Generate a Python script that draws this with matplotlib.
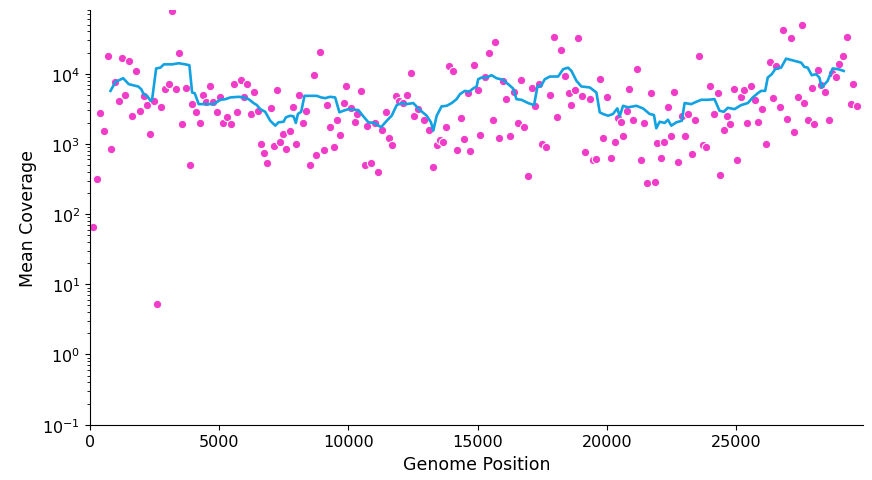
import numpy as np
import matplotlib
matplotlib.use("Agg")
import matplotlib.pyplot as plt

# mean coverage per window (position in bp, coverage)
positions = [116, 259, 401, 556, 695, 838, 980, 1119, 1262, 1366,
             1505, 1648, 1791, 1945, 2084, 2227, 2331, 2486, 2613, 2768,
             2910, 3049, 3192, 3335, 3435, 3578, 3721, 3860, 3964, 4107,
             4246, 4389, 4493, 4632, 4775, 4918, 5018, 5161, 5304, 5443,
             5585, 5690, 5829, 5971, 6076, 6215, 6357, 6500, 6601, 6743,
             6832, 6987, 7129, 7218, 7361, 7465, 7604, 7747, 7851, 7990,
             8094, 8237, 8376, 8519, 8662, 8762, 8905, 9048, 9187, 9291,
             9434, 9573, 9677, 9820, 9909, 10102, 10244, 10345, 10488, 10630,
             10731, 10874, 11016, 11155, 11298, 11441, 11580, 11696, 11827, 11954,
             12109, 12263, 12418, 12545, 12688, 12931, 13124, 13267, 13410, 13549,
             13653, 13757, 13896, 14039, 14193, 14336, 14475, 14618, 14707, 14861,
             14992, 15100, 15286, 15429, 15571, 15672, 15814, 15957, 16096, 16251,
             16393, 16536, 16675, 16779, 16922, 17077, 17216, 17359, 17501, 17640,
             17783, 17938, 18080, 18219, 18362, 18516, 18605, 18748, 18891, 19030,
             19134, 19327, 19470, 19559, 19713, 19856, 19995, 20149, 20292, 20435,
             20524, 20628, 20767, 20859, 21014, 21153, 21296, 21438, 21539, 21682,
             21836, 21925, 22068, 22211, 22350, 22454, 22596, 22735, 22878, 23021,
             23121, 23264, 23407, 23546, 23689, 23832, 23986, 24125, 24268, 24372,
             24511, 24615, 24758, 24897, 25028, 25183, 25283, 25426, 25569, 25708,
             25850, 25993, 26148, 26287, 26429, 26534, 26673, 26816, 26958, 27097,
             27240, 27394, 27537, 27626, 27780, 27923, 28012, 28155, 28271, 28437,
             28591, 28695, 28834, 28977, 29120, 29259, 29413, 29506, 29660]
coverage = [66, 316, 2720, 1530, 18100, 858, 7570, 4070, 16600, 5000,
            15000, 2470, 11100, 2970, 4800, 3530, 1400, 4070, 5.3, 3390,
            6030, 7180, 79000, 6030, 19800, 1900, 6220, 509, 3650, 2810,
            1990, 5000, 3900, 6580, 3900, 2810, 4690, 1990, 2390, 1900,
            7180, 2810, 8180, 4590, 7180, 2690, 5520, 2970, 990, 753,
            532, 3240, 947, 5770, 1080, 1400, 858, 1530, 3390, 990,
            5000, 1990, 2970, 509, 9720, 698, 20600, 822, 3530, 1740,
            906, 2170, 1340, 3860, 6790, 3240, 2070, 2640, 5710, 509,
            1820, 532, 2010, 392, 1580, 2810, 1230, 980, 4800, 4070,
            3780, 5010, 10200, 2470, 3130, 2170, 1580, 467, 980, 1140,
            1070, 1740, 12800, 10960, 831, 2370, 1180, 5240, 787, 13200,
            5960, 1340, 8910, 19800, 2170, 28300, 1230, 7910, 4400, 1290,
            5520, 1990, 8180, 1740, 344, 6310, 3500, 7180, 990, 897,
            5010, 33300, 2390, 21500, 9230, 5240, 3530, 5960, 31900, 4800,
            762, 4400, 581, 607, 8530, 1230, 4590, 640, 1070, 2370,
            2070, 1290, 2900, 6030, 2190, 11700, 581, 1990, 277, 5280,
            289, 1020, 640, 1070, 3390, 1290, 5520, 556, 2520, 1290,
            2640, 721, 2170, 18100, 968, 897, 6580, 2690, 5240, 360,
            1600, 2470, 1900, 6030, 581, 4640, 5770, 1990, 6790, 4160,
            2070, 3100, 990, 14600, 4450, 12800, 3390, 41400, 2290, 31900,
            1460, 4590, 49300, 3820, 2170, 6310, 1900, 11200, 6870, 5470,
            2170, 10400, 8910, 13800, 18100, 33300, 3650, 7100, 3500]

# rolling mean line
roll_pos = [800, 992, 1290, 1505, 1870, 1985, 2085, 2230, 2345, 2410,
            2565, 2730, 2860, 3180, 3435, 3695, 3850, 3955, 4055, 4210,
            4530, 4790, 4980, 5045, 5240, 5430, 5750, 5945, 6140, 6330,
            6460, 6590, 6780, 6975, 7170, 7295, 7490, 7580, 7745, 7875,
            7965, 8045, 8170, 8300, 8585, 8780, 8945, 9100, 9290, 9485,
            9650, 9805, 10000, 10385, 10575, 10770, 11000, 11260, 11480, 11670,
            11865, 12060, 12250, 12505, 12725, 13025, 13190, 13280, 13410, 13600,
            13795, 13990, 14180, 14310, 14500, 14655, 14820, 14955, 15015, 15145,
            15340, 15530, 15725, 15980, 16175, 16365, 16495, 16690, 16945, 17175,
            17310, 17435, 17590, 17785, 18105, 18300, 18490, 18620, 18815, 19005,
            19330, 19585, 19715, 19840, 20035, 20225, 20395, 20485, 20615, 20805,
            21130, 21385, 21645, 21810, 21900, 22030, 22225, 22350, 22480, 22675,
            22890, 22995, 23250, 23445, 23640, 23895, 24150, 24345, 24510, 24665,
            24925, 25180, 25440, 25630, 25825, 25955, 26110, 26210, 26365, 26495,
            26725, 26920, 27175, 27500, 27625, 27755, 27910, 28080, 28205, 28295,
            28525, 28720, 28940, 29145]
roll_cov = [5700, 7660, 8630, 7100, 6580, 6030, 5120, 4760, 4110, 4340,
            11900, 12200, 13600, 13600, 14100, 13600, 13200, 5400, 5280, 3690,
            3690, 3690, 4110, 4250, 4340, 4590, 4690, 4590, 4340, 3820,
            3570, 3130, 2870, 2140, 1820, 2030, 2070, 2390, 2520, 2470,
            1990, 2670, 2870, 4840, 4840, 4840, 4590, 4490, 4690, 4590,
            2820, 2970, 3130, 3030, 2470, 2030, 1990, 1730, 2140, 2520,
            3570, 3820, 3690, 3820, 3130, 2520, 2030, 1550, 2520, 3430,
            3490, 3820, 4340, 5120, 5700, 5520, 6160, 6580, 8350, 8830,
            8830, 9530, 8630, 8170, 7100, 6160, 4340, 4250, 3820, 3570,
            6710, 6580, 8350, 9120, 9120, 11600, 12200, 10960, 7910, 6580,
            6370, 5400, 2820, 2670, 2520, 2670, 3210, 2470, 3490, 3320,
            3490, 3210, 2670, 2580, 1670, 2070, 1990, 2210, 1820, 2030,
            2140, 3820, 3690, 3980, 4250, 4250, 4340, 2970, 2870, 3270,
            3130, 3570, 3820, 4590, 5280, 5700, 5700, 8830, 9840, 11600,
            12200, 16400, 15500, 14400, 12500, 12200, 9530, 9840, 8830, 6370,
            7910, 11900, 11600, 10960]

genome_length = 29903

fig, ax = plt.subplots(figsize=(8.72, 4.81), dpi=100)
fig.subplots_adjust(left=0.103, right=0.99, top=0.978, bottom=0.115)

ax.scatter(positions, coverage, s=36, color="#f03cc8", edgecolor="white",
           linewidth=0.75, zorder=2)
ax.plot(roll_pos, roll_cov, color="#12a2e2", linewidth=1.9, zorder=3)

ax.set_yscale("log")
ax.set_ylim(0.1, 82000)
ax.set_xlim(0, genome_length)
ax.set_xticks([0, 5000, 10000, 15000, 20000, 25000])
ax.tick_params(labelsize=11.5)
ax.set_xlabel("Genome Position", fontsize=12.5)
ax.set_ylabel("Mean Coverage", fontsize=12.5)
ax.spines["top"].set_visible(False)
ax.spines["right"].set_visible(False)

plt.savefig("out.png")
